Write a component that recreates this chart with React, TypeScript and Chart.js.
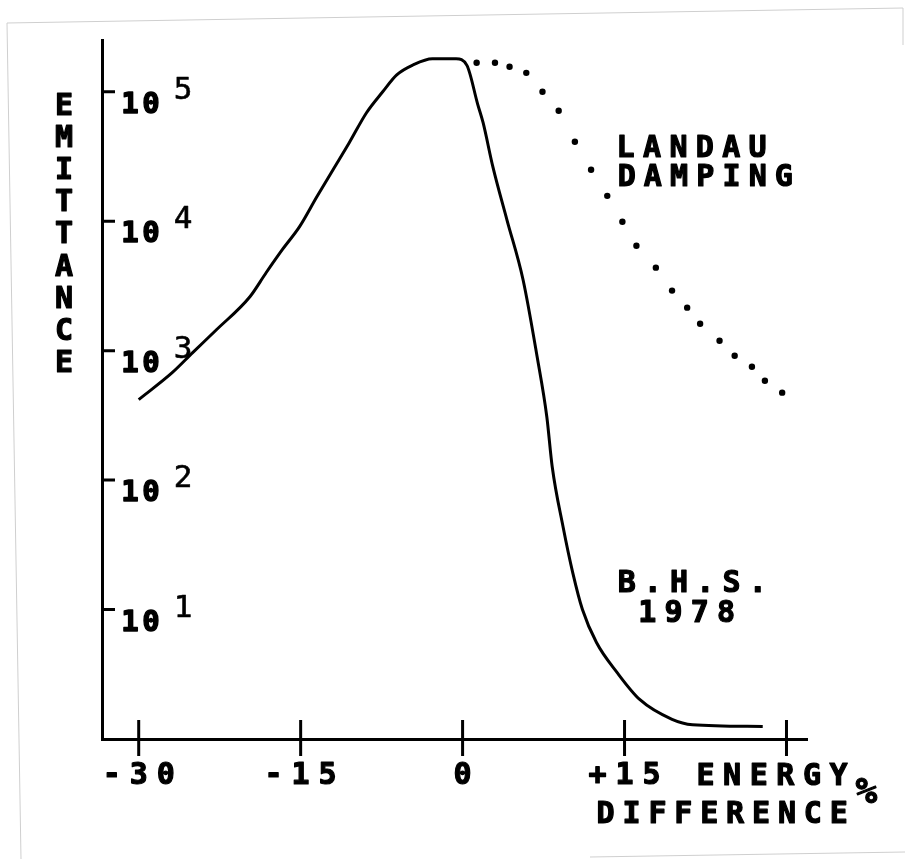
import React, { useEffect, useRef } from "react";
import { Chart, registerables } from "chart.js";

Chart.register(...registerables);

// Solid curve (B.H.S. 1978 measurement): energy difference % vs emittance
const energyDiff = [
  -30, -26.9, -25, -22.8, -19.7, -18.2, -16.7, -15.1, -13.5, -12, -10.5, -8.9,
  -7.4, -6.1, -4.6, -2.8, -0.6, 0.4, 1.4, 1.9, 2.8, 4.1, 5.6, 6.9, 7.8, 8.3,
  9.3, 10.2, 11.1, 12.4, 14.3, 16.4, 19.4, 21.3, 27.8,
];
const emittance = [
  419, 676, 966, 1450, 2610, 4000, 6030, 9080, 15450, 25000, 40400, 68900,
  100000, 135000, 161000, 180000, 180000, 160000, 80000, 57700, 26400, 10300,
  3530, 900, 309, 127, 43.8, 19.3, 10, 5.56, 3.27, 2.02, 1.42, 1.29, 1.25,
];

// Dotted curve (Landau damping)
const landauEnergy = [
  1.3, 3.0, 4.35, 5.9, 7.4, 8.9, 10.4, 11.9, 13.4, 14.8, 16.1, 17.9, 19.4,
  20.8, 22.0, 23.8, 25.2, 26.8, 28.0, 29.6,
];
const landauEmittance = [
  167500, 167500, 156000, 140000, 100000, 71300, 41100, 25000, 15700, 9910,
  6470, 4380, 2910, 2150, 1615, 1194, 914, 752, 586, 474,
];

const xTickValues = [-30, -15, 0, 15, 30];
const xTickLabels = ["-30", "-15", "0", "+15", ""];
const yTickExponents = [1, 2, 3, 4, 5];

const yAxisTitle = "EMITTANCE";
const xAxisTitle1 = "ENERGY";
const xAxisTitle2 = "DIFFERENCE";
const xAxisUnit = "%";
const landauLabel = ["LANDAU", "DAMPING"];
const sourceLabel = ["B.H.S.", "1978"];

const MONO = '"DejaVu Sans Mono", "Liberation Mono", monospace';

function drawSpaced(
  ctx: CanvasRenderingContext2D,
  text: string,
  firstCenterX: number,
  baseline: number,
  pitch: number,
  stroke = 1.2
) {
  for (let i = 0; i < text.length; i++) {
    const cx = firstCenterX + i * pitch;
    ctx.fillText(text[i], cx, baseline);
    if (stroke > 0) {
      ctx.lineWidth = stroke;
      ctx.strokeText(text[i], cx, baseline);
    }
  }
}

function drawCentered(
  ctx: CanvasRenderingContext2D,
  text: string,
  centerX: number,
  baseline: number,
  pitch: number
) {
  const first = centerX - ((text.length - 1) * pitch) / 2;
  drawSpaced(ctx, text, first, baseline, pitch);
}

const decorPlugin = {
  id: "decor",
  afterDraw(chart: any) {
    const { ctx, chartArea, scales } = chart;
    const { left, bottom } = chartArea;
    const x = scales.x;
    const y = scales.y;
    ctx.save();

    // faint scan frame
    ctx.strokeStyle = "#cfcfcf";
    ctx.lineWidth = 1;
    ctx.beginPath();
    ctx.moveTo(7, 23);
    ctx.lineTo(903, 8);
    ctx.moveTo(7, 23);
    ctx.lineTo(21, 859);
    ctx.moveTo(903, 8);
    ctx.lineTo(903, 45);
    ctx.moveTo(590, 857);
    ctx.lineTo(905, 852);
    ctx.stroke();

    // tick marks
    ctx.strokeStyle = "#000";
    ctx.lineWidth = 3;
    ctx.beginPath();
    xTickValues.forEach((v) => {
      const px = x.getPixelForValue(v);
      ctx.moveTo(px, bottom - 19);
      ctx.lineTo(px, bottom + 17);
    });
    yTickExponents.forEach((e) => {
      const py = y.getPixelForValue(Math.pow(10, e));
      ctx.moveTo(left, py);
      ctx.lineTo(left + 13, py);
    });
    ctx.stroke();

    ctx.fillStyle = "#000";
    ctx.strokeStyle = "#000";
    ctx.textAlign = "center";
    ctx.textBaseline = "alphabetic";
    ctx.lineJoin = "round";

    // y tick labels: 10^n
    yTickExponents.forEach((e) => {
      const py = y.getPixelForValue(Math.pow(10, e));
      ctx.font = `bold 29px ${MONO}`;
      drawSpaced(ctx, "10", left + 28, py + 21, 21, 1.4);
      ctx.font = `31px ${MONO}`;
      drawSpaced(ctx, String(e), left + 81, py + 7, 0, 0.6);
    });

    // x tick labels
    ctx.font = `bold 30px ${MONO}`;
    xTickValues.forEach((v, i) => {
      const label = xTickLabels[i];
      if (!label) return;
      drawCentered(ctx, label, x.getPixelForValue(v), bottom + 45, 27);
    });

    // y axis title (stacked letters)
    ctx.font = `bold 30px ${MONO}`;
    for (let i = 0; i < yAxisTitle.length; i++) {
      drawSpaced(ctx, yAxisTitle[i], left - 38, 115 + i * 32.1, 0);
    }

    // x axis title
    drawSpaced(ctx, xAxisTitle1, x.getPixelForValue(22.5), bottom + 46, 26.6);
    drawSpaced(ctx, xAxisTitle2, x.getPixelForValue(13.25), bottom + 84, 25.9);
    ctx.font = `bold 36px ${MONO}`;
    drawSpaced(ctx, xAxisUnit, x.getPixelForValue(37.4), bottom + 64, 0);

    // annotations
    ctx.font = `bold 30px ${MONO}`;
    drawSpaced(ctx, landauLabel[0], x.getPixelForValue(15.1), y.getPixelForValue(Math.pow(10, 4.5)), 26.4);
    drawSpaced(ctx, landauLabel[1], x.getPixelForValue(15.2), y.getPixelForValue(Math.pow(10, 4.27)), 26.2);
    drawSpaced(ctx, sourceLabel[0], x.getPixelForValue(15.2), y.getPixelForValue(Math.pow(10, 1.136)), 26.2);
    drawSpaced(ctx, sourceLabel[1], x.getPixelForValue(17.1), y.getPixelForValue(Math.pow(10, 0.904)), 26.3);

    ctx.restore();
  },
};

export default function App() {
  const canvasRef = useRef<HTMLCanvasElement | null>(null);

  useEffect(() => {
    if (!canvasRef.current) return;
    const chart = new Chart(canvasRef.current, {
      type: "scatter",
      data: {
        datasets: [
          {
            label: "B.H.S. 1978",
            data: energyDiff.map((v, i) => ({ x: v, y: emittance[i] })),
            showLine: true,
            borderColor: "#000",
            borderWidth: 3,
            pointRadius: 0,
            cubicInterpolationMode: "monotone",
          },
          {
            label: "Landau damping",
            data: landauEnergy.map((v, i) => ({ x: v, y: landauEmittance[i] })),
            showLine: false,
            backgroundColor: "#000",
            borderColor: "#000",
            pointRadius: 3.2,
            pointBorderWidth: 0,
          },
        ],
      },
      options: {
        animation: false,
        responsive: true,
        maintainAspectRatio: false,
        layout: { padding: { left: 102, right: 98, top: 40, bottom: 120 } },
        plugins: {
          legend: { display: false },
          tooltip: { enabled: false },
        },
        scales: {
          x: {
            type: "linear",
            min: -33.4,
            max: 31.9,
            grid: { display: false },
            ticks: { display: false },
            border: { display: true, color: "#000", width: 3 },
            afterFit: (s: any) => {
              s.height = 0;
            },
          },
          y: {
            type: "logarithmic",
            min: 1,
            max: Math.pow(10, 5.4),
            grid: { display: false },
            ticks: { display: false },
            border: { display: true, color: "#000", width: 3 },
            afterFit: (s: any) => {
              s.width = 0;
            },
          },
        },
      },
      plugins: [decorPlugin],
    } as any);
    return () => chart.destroy();
  }, []);

  return (
    <div style={{ position: "absolute", left: 0, top: 0, width: 905, height: 859, background: "#fff" }}>
      <canvas ref={canvasRef} />
    </div>
  );
}
